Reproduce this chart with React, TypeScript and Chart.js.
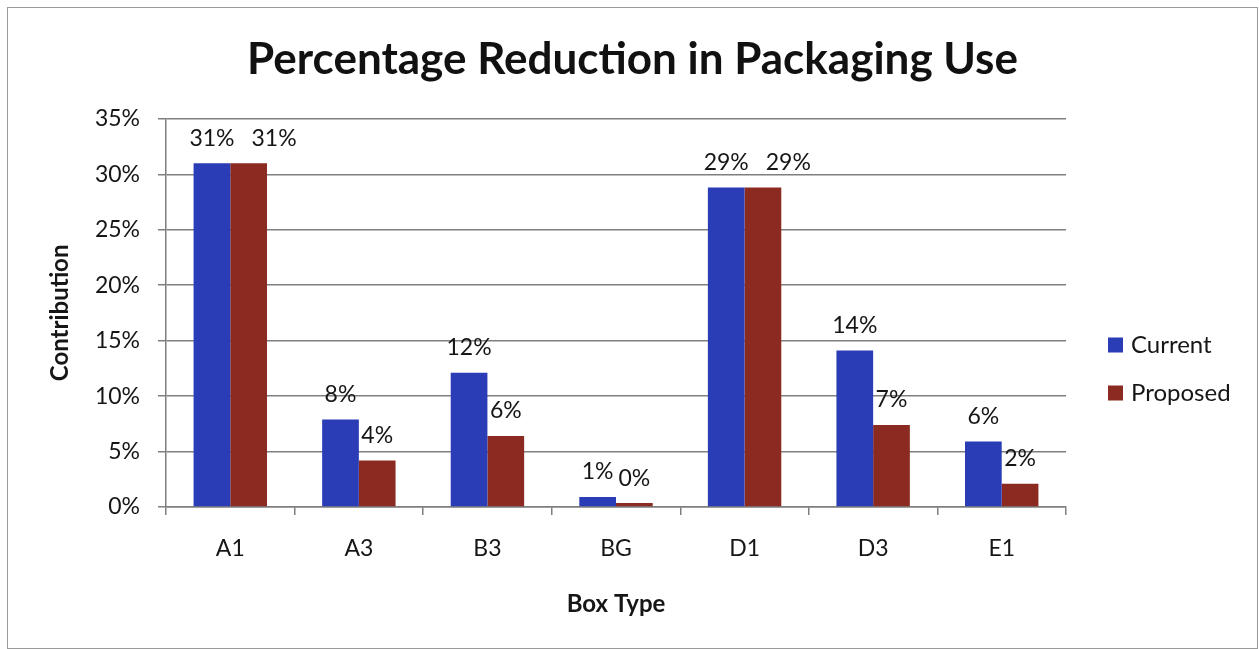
import React, { useEffect, useRef } from "react";
import { Chart, registerables } from "chart.js";

Chart.register(...registerables);

const categories = ["A1", "A3", "B3", "BG", "D1", "D3", "E1"];
const currentValues = [31.0, 7.9, 12.1, 0.9, 28.8, 14.1, 5.9];
const proposedValues = [31.0, 4.2, 6.4, 0.35, 28.8, 7.4, 2.1];
const yTickValues = [0, 5, 10, 15, 20, 25, 30, 35];
const seriesNames = ["Current", "Proposed"];
const seriesColors = ["#2b3db6", "#8b2a20"];

const FONT = "Lato, 'Noto Sans', sans-serif";
const TEXT = "#161616";
const LINE = "#7f7f7f";
const LEGEND_WIDTH = 191;

const fmtPct = (v: number) => `${Math.round(v)}%`;

// Value labels above each bar; a label that would collide with its
// neighbour in the same group is nudged to the right.
const valueLabels = {
  id: "valueLabels",
  afterDatasetsDraw(chart: any) {
    const { ctx } = chart;
    ctx.save();
    ctx.font = `23px ${FONT}`;
    ctx.fillStyle = TEXT;
    ctx.textAlign = "center";
    ctx.textBaseline = "middle";
    const placed: { x: number; y: number; w: number }[][] = [];
    chart.data.datasets.forEach((ds: any, di: number) => {
      const meta = chart.getDatasetMeta(di);
      placed[di] = [];
      meta.data.forEach((bar: any, i: number) => {
        const text = fmtPct(ds.data[i]);
        const w = ctx.measureText(text).width;
        let x = bar.x;
        const y = bar.y - 25;
        if (di > 0) {
          const prev = placed[di - 1][i];
          const overlapY = Math.abs(prev.y - y) < 20;
          const prevRight = prev.x + prev.w / 2;
          if (overlapY && x - w / 2 < prevRight) {
            x = prevRight + 17 + w / 2;
          }
        }
        placed[di][i] = { x, y, w };
        ctx.fillText(text, x, y);
      });
    });
    ctx.restore();
  },
};

// Legend on the right: coloured squares with the series names.
const sideLegend = {
  id: "sideLegend",
  afterDraw(chart: any) {
    const { ctx, chartArea } = chart;
    ctx.save();
    ctx.font = `24px ${FONT}`;
    ctx.textBaseline = "middle";
    ctx.textAlign = "left";
    const x = chartArea.right + 42;
    const ys = [337, 385];
    chart.data.datasets.forEach((ds: any, i: number) => {
      const y = ys[i];
      ctx.fillStyle = ds.backgroundColor;
      ctx.fillRect(x, y - 7.5, 15, 15);
      ctx.fillStyle = TEXT;
      ctx.fillText(ds.label, x + 23, y);
    });
    ctx.restore();
  },
};

export default function App() {
  const canvasRef = useRef<HTMLCanvasElement | null>(null);

  useEffect(() => {
    if (!canvasRef.current) return;
    const chart = new Chart(canvasRef.current, {
      type: "bar",
      data: {
        labels: categories,
        datasets: [
          {
            label: seriesNames[0],
            data: currentValues,
            backgroundColor: seriesColors[0],
            categoryPercentage: 0.571,
            barPercentage: 1,
          },
          {
            label: seriesNames[1],
            data: proposedValues,
            backgroundColor: seriesColors[1],
            categoryPercentage: 0.571,
            barPercentage: 1,
          },
        ],
      },
      options: {
        responsive: false,
        animation: false,
        devicePixelRatio: 1,
        layout: { padding: 0 },
        plugins: {
          legend: { display: false },
          tooltip: { enabled: false },
          title: {
            display: true,
            text: "Percentage Reduction in Packaging Use",
            color: "#111111",
            font: { family: FONT, size: 44, weight: "bold" },
            padding: { top: 25, bottom: 33 },
          },
        },
        scales: {
          x: {
            offset: true,
            grid: {
              offset: true,
              drawOnChartArea: false,
              drawTicks: true,
              tickLength: 8,
              color: LINE,
              lineWidth: 1.5,
            },
            border: { color: LINE, width: 1.5 },
            ticks: {
              color: TEXT,
              font: { family: FONT, size: 23 },
              padding: 20,
            },
            title: {
              display: true,
              text: "Box Type",
              color: TEXT,
              font: { family: FONT, size: 24, weight: "bold" },
              padding: { top: 0, bottom: 29 },
            },
            afterFit: (s: any) => {
              s.height = 141;
            },
          },
          y: {
            min: 0,
            max: 35,
            afterBuildTicks: (s: any) => {
              s.ticks = yTickValues.map((v) => ({ value: v }));
            },
            ticks: {
              color: TEXT,
              font: { family: FONT, size: 23 },
              padding: 18,
              callback: (v: any) => `${v}%`,
            },
            grid: { color: LINE, lineWidth: 1.5, tickLength: 8 },
            border: { color: LINE, width: 1.5 },
            title: {
              display: true,
              text: "Contribution",
              color: TEXT,
              font: { family: FONT, size: 24, weight: "bold" },
              padding: { top: 38, bottom: 0 },
            },
            afterFit: (s: any) => {
              s.width = 158;
            },
          },
          // Empty right-hand scale that reserves room for the legend.
          legendSpace: {
            type: "linear",
            position: "right",
            display: true,
            grid: { display: false, drawTicks: false },
            border: { display: false },
            ticks: { display: false },
            afterFit: (s: any) => {
              s.width = LEGEND_WIDTH;
            },
          },
        },
      },
      plugins: [valueLabels, sideLegend],
    });
    return () => chart.destroy();
  }, []);

  return (
    <div
      style={{
        position: "absolute",
        left: 7,
        top: 7,
        width: 1249,
        height: 640,
        border: "1px solid #9a9a9a",
        background: "#ffffff",
      }}
    >
      <canvas ref={canvasRef} width={1249} height={640} style={{ display: "block" }} />
    </div>
  );
}
